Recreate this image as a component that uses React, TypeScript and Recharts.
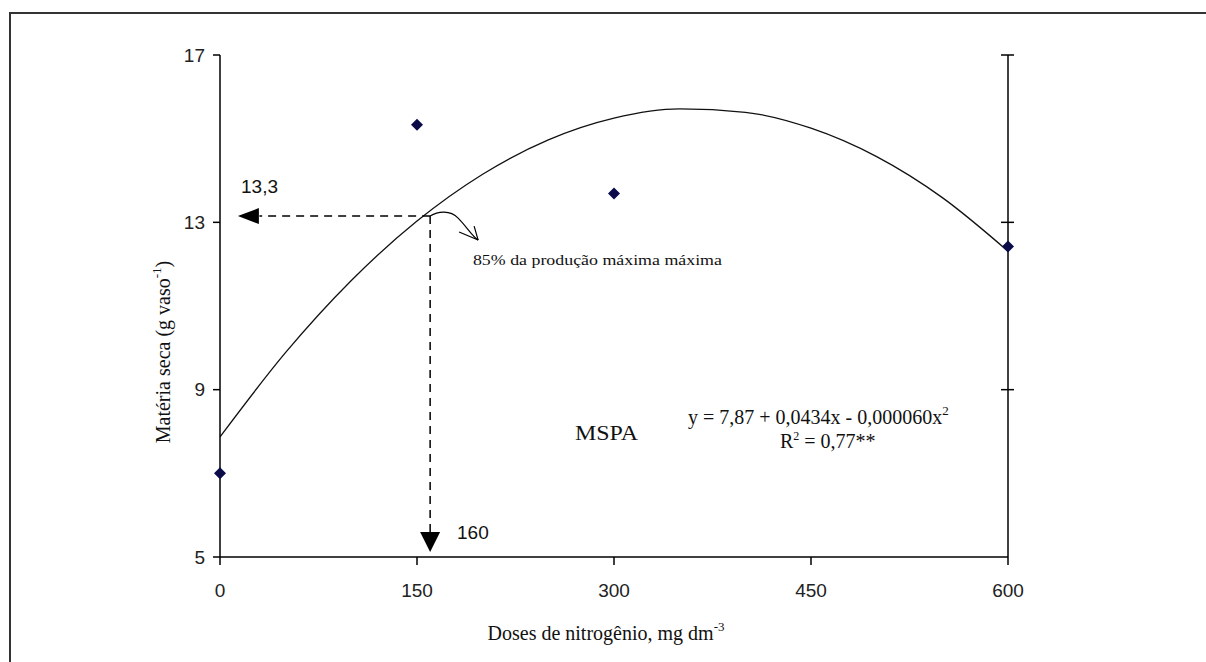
import React from 'react';
import { ComposedChart, Line, Scatter, XAxis, YAxis, ReferenceLine, ReferenceDot } from 'recharts';

// Observed points (dose of N, dry matter)
const doses = [0, 150, 300, 600];
const observed = [7.0, 15.33, 13.69, 12.42];

// Fitted curve
const curveDoses = [0, 50, 100, 150, 200, 250, 300, 350, 400, 450, 500, 550, 600];
const curveValues = [7.87, 9.89, 11.61, 13.03, 14.15, 14.97, 15.49, 15.71, 15.63, 15.25, 14.57, 13.59, 12.31];

const xTicks = [0, 150, 300, 450, 600];
const yTicks = [5, 9, 13, 17];
const rightTicks = [9, 13, 17];
const xMax = 600;

// annotation values
const doseAt85 = 160;
const valueAt85 = 13.15;
const leftArrowDose = 22;
const dashEndDose = 30;
const vDashEnd = 5.6;
const downArrowValue = 5.36;

const pointData = doses.map((d, i) => ({ x: d, y: observed[i] }));
const curveData = curveDoses.map((d, i) => ({ x: d, y: curveValues[i] }));

const SERIF = '"Liberation Serif", "Times New Roman", serif';
const SANS = '"Liberation Sans", Arial, sans-serif';

const Diamond = (p: any) => {
  const { cx, cy } = p;
  if (cx == null || cy == null) return null;
  const r = 6;
  return <polygon points={`${cx},${cy - r} ${cx + r},${cy} ${cx},${cy + r} ${cx - r},${cy}`} fill="#0b0b4a" />;
};

const textShape = (content: React.ReactNode, size: number, family: string, extra: any = {}) => (p: any) => (
  <text x={p.cx} y={p.cy} fontSize={size} fontFamily={family} fill="#111" {...extra}>
    {content}
  </text>
);

const LeftArrowHead = (p: any) => {
  const { cx, cy } = p;
  return <polygon points={`${cx - 11},${cy} ${cx + 10},${cy - 8} ${cx + 10},${cy + 8}`} fill="#000" />;
};

const DownArrowHead = (p: any) => {
  const { cx, cy } = p;
  return <polygon points={`${cx - 10},${cy - 10} ${cx + 10},${cy - 10} ${cx},${cy + 10}`} fill="#000" />;
};

const CurvedArrow = (p: any) => {
  const { cx, cy } = p;
  return (
    <g transform={`translate(${cx},${cy})`} fill="none" stroke="#000" strokeWidth={1.2}>
      <path d="M 0 0 C 8 -5 20 -6 28 2 S 42 20 48 24" />
      <path d="M 48 24 L 29 16" />
      <path d="M 48 24 L 44 10" />
    </g>
  );
};

// crossing tick mark on the right-hand axis
const CrossTick = (p: any) => {
  const { cx, cy } = p;
  return <line x1={cx - 7} x2={cx + 6} y1={cy} y2={cy} stroke="#000" strokeWidth={1.5} />;
};

export default function App() {
  return (
    <div style={{ position: 'absolute', left: 0, top: 0, width: 1206, height: 662, background: '#fff' }}>
      <div
        style={{
          position: 'absolute',
          left: 9,
          top: 12,
          width: 1197,
          height: 650,
          borderTop: '2px solid #333',
          borderLeft: '2px solid #333',
        }}
      />
      <ComposedChart
        width={1206}
        height={662}
        margin={{ top: 55, right: 197, left: 160, bottom: 65 }}
        style={{ position: 'absolute', left: 0, top: 0 }}
      >
        <XAxis
          type="number"
          dataKey="x"
          domain={[0, xMax]}
          ticks={xTicks}
          interval={0}
          height={40}
          tickSize={8}
          tickMargin={19}
          axisLine={{ stroke: '#000', strokeWidth: 1.5 }}
          tickLine={{ stroke: '#000', strokeWidth: 1.5 }}
          tick={{ fontFamily: SANS, fontSize: 19, fill: '#222' }}
        />
        <YAxis
          yAxisId="l"
          type="number"
          dataKey="y"
          domain={[5, 17]}
          ticks={yTicks}
          interval={0}
          width={60}
          tickSize={7}
          tickMargin={8}
          axisLine={{ stroke: '#000', strokeWidth: 1.5 }}
          tickLine={{ stroke: '#000', strokeWidth: 1.5 }}
          tick={{ fontFamily: SANS, fontSize: 19, fill: '#222' }}
        />
        <YAxis
          yAxisId="r"
          orientation="right"
          type="number"
          domain={[5, 17]}
          ticks={rightTicks}
          interval={0}
          width={1}
          tickSize={0}
          tickLine={false}
          axisLine={{ stroke: '#000', strokeWidth: 1.5 }}
          tick={false}
        />
        <Line
          yAxisId="l"
          data={curveData}
          dataKey="y"
          type="monotone"
          stroke="#111"
          strokeWidth={1.3}
          dot={false}
          activeDot={false}
          isAnimationActive={false}
        />
        <Scatter yAxisId="l" data={pointData} dataKey="y" shape={<Diamond />} isAnimationActive={false} />

        {rightTicks.map((t) => (
          <ReferenceDot key={t} yAxisId="l" x={xMax} y={t} shape={<CrossTick />} />
        ))}

        <ReferenceLine
          yAxisId="l"
          segment={[{ x: doseAt85, y: valueAt85 }, { x: dashEndDose, y: valueAt85 }]}
          stroke="#000"
          strokeWidth={1.5}
          strokeDasharray="8 6"
        />
        <ReferenceLine
          yAxisId="l"
          segment={[{ x: doseAt85, y: valueAt85 }, { x: doseAt85, y: vDashEnd }]}
          stroke="#000"
          strokeWidth={1.5}
          strokeDasharray="8 6"
        />
        <ReferenceDot yAxisId="l" x={leftArrowDose} y={valueAt85} shape={<LeftArrowHead />} />
        <ReferenceDot yAxisId="l" x={doseAt85} y={downArrowValue} shape={<DownArrowHead />} />
        <ReferenceDot yAxisId="l" x={doseAt85} y={valueAt85} shape={<CurvedArrow />} />

        <ReferenceDot yAxisId="l" x={16} y={13.69} shape={textShape('13,3', 19, SANS)} />
        <ReferenceDot yAxisId="l" x={180.5} y={5.43} shape={textShape('160', 19, SANS)} />
        <ReferenceDot
          yAxisId="l"
          x={192.6}
          y={11.97}
          shape={textShape('85% da produção máxima máxima', 14, SERIF, { textLength: 249, lengthAdjust: 'spacingAndGlyphs' })}
        />
        <ReferenceDot
          yAxisId="l"
          x={270.3}
          y={7.79}
          shape={textShape('MSPA', 20, SERIF, { textLength: 63, lengthAdjust: 'spacingAndGlyphs' })}
        />
        <ReferenceDot
          yAxisId="l"
          x={356.3}
          y={8.17}
          shape={textShape(
            <>
              y = 7,87 + 0,0434x - 0,000060x
              <tspan dy={-9} fontSize={13}>2</tspan>
            </>,
            20,
            SERIF
          )}
        />
        <ReferenceDot
          yAxisId="l"
          x={426.4}
          y={7.6}
          shape={textShape(
            <>
              R<tspan dy={-8} fontSize={12}>2</tspan>
              <tspan dy={8}> = 0,77**</tspan>
            </>,
            20,
            SERIF
          )}
        />
      </ComposedChart>
      <svg width={1206} height={662} style={{ position: 'absolute', left: 0, top: 0, pointerEvents: 'none' }}>
        <text
          transform="translate(170,352) rotate(-90)"
          textAnchor="middle"
          fontFamily={SERIF}
          fontSize={20}
          fill="#111"
        >
          Matéria seca (g vaso<tspan dy={-9} fontSize={13}>-1</tspan>
          <tspan dy={9}>)</tspan>
        </text>
        <text x={606} y={640} textAnchor="middle" fontFamily={SERIF} fontSize={20} fill="#111">
          Doses de nitrogênio, mg dm<tspan dy={-9} fontSize={13}>-3</tspan>
        </text>
      </svg>
    </div>
  );
}
